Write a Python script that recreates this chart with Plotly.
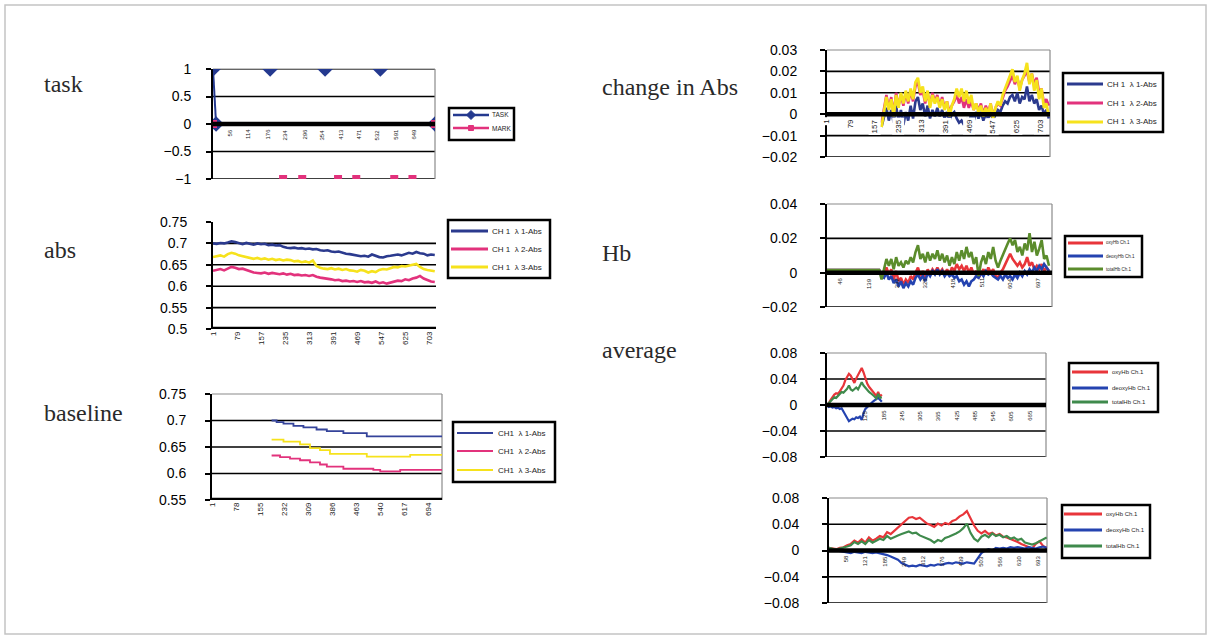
import plotly.graph_objects as go

W, H = 1211, 639

# ------------------------------------------------------------------ data
# task panel (sample index / value); None = gap between isolated marks
task_names = ["TASK", "MARK"]
task_x = [1, 11, None, 186, None, 364, None, 543, None, 720]
task_y = [1, 0, None, 1, None, 1, None, 1, None, 0]
mark_x = [1, None, 228, None, 290, None, 406, None, 465, None, 588, None, 647, None, 720]
mark_y = [0, None, -1, None, -1, None, -1, None, -1, None, -1, None, -1, None, 0]
task_ticks = [56, 114, 176, 234, 296, 354, 413, 471, 532, 591, 649]

# abs panel: samples 1, 13, 25, ...
abs_names = ["CH 1  \u03bb 1-Abs", "CH 1  \u03bb 2-Abs", "CH 1  \u03bb 3-Abs"]
abs_start, abs_step = 1, 12
abs_l1 = [0.700, 0.699, 0.701, 0.700, 0.702, 0.705, 0.703, 0.700, 0.698, 0.701,
          0.699, 0.697, 0.700, 0.698, 0.699, 0.696, 0.697, 0.695, 0.696, 0.692,
          0.690, 0.689, 0.690, 0.688, 0.689, 0.687, 0.688, 0.686, 0.687, 0.684,
          0.683, 0.684, 0.681, 0.680, 0.681, 0.678, 0.676, 0.675, 0.673, 0.672,
          0.670, 0.671, 0.669, 0.674, 0.671, 0.668, 0.667, 0.670, 0.671, 0.673,
          0.674, 0.672, 0.675, 0.678, 0.676, 0.680, 0.677, 0.676, 0.672, 0.674,
          0.673]
abs_l2 = [0.636, 0.638, 0.640, 0.637, 0.642, 0.645, 0.643, 0.640, 0.641, 0.638,
          0.636, 0.632, 0.631, 0.630, 0.632, 0.629, 0.631, 0.630, 0.628, 0.630,
          0.627, 0.629, 0.626, 0.627, 0.625, 0.626, 0.624, 0.626, 0.622, 0.620,
          0.619, 0.617, 0.616, 0.614, 0.615, 0.612, 0.613, 0.611, 0.612, 0.610,
          0.612, 0.609, 0.610, 0.608, 0.611, 0.607, 0.609, 0.606, 0.608, 0.610,
          0.613, 0.612, 0.616, 0.614, 0.618, 0.620, 0.624, 0.618, 0.615, 0.611,
          0.610]
abs_l3 = [0.668, 0.670, 0.672, 0.669, 0.675, 0.678, 0.676, 0.672, 0.670, 0.668,
          0.666, 0.664, 0.666, 0.663, 0.665, 0.662, 0.664, 0.661, 0.663, 0.660,
          0.662, 0.661, 0.658, 0.659, 0.656, 0.658, 0.655, 0.660, 0.647, 0.643,
          0.641, 0.640, 0.642, 0.639, 0.641, 0.638, 0.640, 0.637, 0.636, 0.634,
          0.638, 0.636, 0.632, 0.635, 0.633, 0.638, 0.640, 0.639, 0.642, 0.645,
          0.644, 0.647, 0.646, 0.648, 0.650, 0.652, 0.645, 0.640, 0.638, 0.636,
          0.635]
abs_ticks = [1, 79, 157, 235, 313, 391, 469, 547, 625, 703]

# baseline panel (step lines)
bl_names = ["CH1  \u03bb 1-Abs", "CH1  \u03bb 2-Abs", "CH1  \u03bb 3-Abs"]
bl_l1_x = [192, 208, 230, 262, 294, 336, 369, 422, 497, 738]
bl_l1_y = [0.700, 0.697, 0.694, 0.690, 0.687, 0.683, 0.680, 0.676, 0.670, 0.670]
bl_l2_x = [192, 219, 251, 283, 315, 347, 369, 422, 518, 540, 604, 738]
bl_l2_y = [0.634, 0.631, 0.628, 0.625, 0.621, 0.617, 0.613, 0.609, 0.607, 0.604, 0.607, 0.607]
bl_l3_x = [192, 230, 283, 315, 347, 379, 497, 636, 738]
bl_l3_y = [0.664, 0.660, 0.655, 0.648, 0.644, 0.637, 0.632, 0.635, 0.635]
bl_ticks = [1, 78, 155, 232, 309, 386, 463, 540, 617, 694]

# change in Abs: samples 181, 189, ...
ch_names = ["CH 1  \u03bb 1-Abs", "CH 1  \u03bb 2-Abs", "CH 1  \u03bb 3-Abs"]
ch_start, ch_step = 181, 8
ch_l1 = [-0.006, -0.002, 0.003, -0.003, 0.002, -0.004, 0.004, -0.003, 0.002, -0.005,
         0.001, -0.003, 0.004, -0.002, 0.006, 0.008, 0.002, 0.005, -0.001, 0.004,
         -0.002, 0.002, -0.001, 0.003, -0.001, 0.002, -0.002, 0.001, -0.003, 0.000,
         0.001, -0.002, -0.004, -0.003, -0.005, -0.002, -0.004, 0.000, -0.003, 0.001,
         -0.002, 0.001, -0.003, 0.000, -0.002, 0.001, -0.003, 0.000, 0.002, 0.001,
         0.004, 0.006, 0.005, 0.008, 0.009, 0.006, 0.010, 0.005, 0.008, 0.007,
         0.013, 0.006, 0.009, 0.005, 0.007, 0.002, 0.004, 0.000, 0.002, -0.002]
ch_l2 = [-0.004, 0.002, 0.009, 0.003, 0.008, 0.000, 0.010, 0.004, 0.009, 0.004,
         0.010, 0.005, 0.011, 0.006, 0.013, 0.015, 0.009, 0.011, 0.005, 0.010,
         0.004, 0.010, 0.006, 0.009, 0.004, 0.008, 0.003, 0.006, 0.001, 0.004,
         0.006, 0.009, 0.005, 0.008, 0.003, 0.007, 0.003, 0.006, 0.002, 0.005,
         0.002, 0.005, 0.000, 0.004, 0.001, 0.005, -0.001, 0.003, 0.005, 0.004,
         0.008, 0.011, 0.013, 0.016, 0.018, 0.014, 0.017, 0.012, 0.016, 0.018,
         0.020, 0.015, 0.019, 0.014, 0.017, 0.010, 0.012, 0.005, 0.007, 0.004]
ch_l3 = [-0.006, 0.001, 0.008, 0.002, 0.007, -0.001, 0.009, 0.003, 0.010, 0.005,
         0.011, 0.006, 0.012, 0.007, 0.015, 0.017, 0.010, 0.013, 0.006, 0.011,
         0.003, 0.009, 0.005, 0.008, 0.003, 0.007, 0.002, 0.006, -0.001, 0.004,
         0.007, 0.012, 0.008, 0.012, 0.006, 0.011, 0.005, 0.009, 0.002, 0.005,
         0.001, 0.004, -0.001, 0.003, 0.000, 0.005, -0.002, 0.003, 0.006, 0.004,
         0.009, 0.012, 0.015, 0.018, 0.021, 0.015, 0.018, 0.011, 0.016, 0.019,
         0.024, 0.014, 0.019, 0.011, 0.016, 0.007, 0.012, 0.003, 0.005, -0.001]
ch_ticks = [1, 79, 157, 235, 313, 391, 469, 547, 625, 703]

# Hb: flat rest part, then samples 181, 189, ...
hb_names = ["oxyHb Ch.1", "deoxyHb Ch.1", "totalHb Ch.1"]
hb_rest_x = [1, 173]
hb_rest_y = [0.0015, 0.0015]
hb_start, hb_step = 181, 8
hb_oxy = [-0.002, 0.000, 0.003, -0.001, 0.002, -0.004, 0.001, -0.005, -0.003, -0.007,
          -0.004, -0.006, -0.002, -0.004, 0.000, 0.003, -0.002, 0.001, -0.004, 0.002,
          -0.001, 0.002, 0.000, 0.003, 0.000, 0.002, -0.001, 0.002, -0.001, 0.003,
          0.001, 0.005, 0.002, 0.004, 0.001, 0.004, 0.000, 0.003, -0.001, 0.001,
          -0.003, 0.000, 0.002, -0.001, 0.003, 0.000, 0.002, -0.002, -0.003, 0.000,
          0.002, 0.005, 0.008, 0.011, 0.008, 0.006, 0.004, 0.006, 0.003, 0.005,
          0.009, 0.004, 0.006, 0.002, 0.004, 0.002, 0.005, 0.001, 0.003, 0.001]
hb_deoxy = [-0.002, -0.003, 0.000, -0.004, -0.002, -0.006, -0.004, -0.008, -0.005, -0.009,
            -0.006, -0.008, -0.005, -0.007, -0.003, -0.001, -0.004, -0.002, -0.005, 0.000,
            -0.002, 0.001, -0.001, 0.002, -0.001, 0.001, -0.002, 0.000, -0.002, -0.001,
            -0.003, -0.002, -0.005, -0.004, -0.007, -0.005, -0.008, -0.005, -0.004, -0.002,
            -0.003, 0.000, -0.002, 0.001, -0.001, 0.000, -0.002, -0.003, -0.004, -0.002,
            -0.004, -0.001, -0.003, -0.002, -0.004, -0.001, -0.003, 0.000, -0.002, 0.001,
            -0.001, 0.002, 0.000, 0.003, 0.001, 0.004, 0.002, 0.005, 0.003, 0.001]
hb_total = [-0.004, 0.002, 0.008, 0.004, 0.008, 0.002, 0.009, 0.004, 0.006, 0.003,
            0.007, 0.005, 0.009, 0.006, 0.012, 0.016, 0.008, 0.011, 0.006, 0.012,
            0.007, 0.011, 0.008, 0.013, 0.007, 0.011, 0.006, 0.010, 0.004, 0.009,
            0.005, 0.012, 0.007, 0.013, 0.008, 0.015, 0.009, 0.012, 0.005, 0.009,
            -0.002, 0.006, 0.010, 0.005, 0.012, 0.008, 0.015, 0.007, 0.003, 0.007,
            0.010, 0.014, 0.017, 0.020, 0.016, 0.019, 0.012, 0.015, 0.010, 0.017,
            0.013, 0.023, 0.012, 0.018, 0.010, 0.014, 0.019, 0.008, 0.010, 0.004]
hb_ticks = [46, 139, 232, 325, 418, 511, 604, 697]

# average (one block): samples 1, 7, 13, ...
avg_start, avg_step = 1, 6
avg_oxy = [0.000, 0.003, 0.008, 0.012, 0.016, 0.018, 0.017, 0.021, 0.026, 0.030,
           0.038, 0.044, 0.048, 0.045, 0.040, 0.034, 0.041, 0.047, 0.052, 0.057,
           0.050, 0.040, 0.033, 0.028, 0.024, 0.020, 0.018, 0.014, 0.020, 0.013,
           0.016]
avg_deoxy = [0.000, -0.003, -0.002, -0.004, -0.003, -0.005, -0.004, -0.006, -0.005, -0.010,
             -0.014, -0.020, -0.025, -0.023, -0.021, -0.022, -0.019, -0.020, -0.018, -0.023,
             -0.012, -0.006, -0.003, 0.000, 0.003, 0.005, 0.007, 0.009, 0.011, 0.008,
             0.005]
avg_total = [0.000, 0.003, 0.006, 0.010, 0.012, 0.011, 0.015, 0.017, 0.020, 0.019,
             0.022, 0.025, 0.030, 0.024, 0.022, 0.025, 0.027, 0.024, 0.029, 0.035,
             0.030, 0.026, 0.024, 0.020, 0.018, 0.016, 0.013, 0.010, 0.017, 0.011,
             0.012]
avg_ticks = [125, 185, 245, 305, 365, 425, 485, 545, 605, 665]

# bottom panel (whole record): samples 1, 13, 25, ...
bot_start, bot_step = 1, 12
bot_oxy = [0.004, 0.003, 0.002, 0.004, 0.005, 0.008, 0.010, 0.015, 0.012, 0.017,
           0.012, 0.020, 0.015, 0.018, 0.022, 0.020, 0.028, 0.025, 0.030, 0.035,
           0.040, 0.046, 0.050, 0.051, 0.048, 0.050, 0.046, 0.041, 0.039, 0.036,
           0.041, 0.038, 0.042, 0.040, 0.045, 0.047, 0.052, 0.055, 0.060, 0.048,
           0.038, 0.030, 0.026, 0.030, 0.025, 0.027, 0.023, 0.025, 0.021, 0.020,
           0.018, 0.016, 0.013, 0.010, 0.008, 0.005, 0.003, 0.010, 0.014, 0.007,
           0.004]
bot_deoxy = [0.000, 0.001, 0.000, -0.001, -0.002, -0.003, -0.004, -0.002, -0.003, -0.004,
             -0.002, -0.003, -0.004, -0.003, -0.004, -0.005, -0.007, -0.009, -0.011, -0.014,
             -0.019, -0.022, -0.024, -0.023, -0.024, -0.022, -0.023, -0.024, -0.022, -0.023,
             -0.021, -0.022, -0.020, -0.019, -0.020, -0.018, -0.019, -0.020, -0.018, -0.019,
             -0.020, -0.012, -0.004, 0.000, 0.002, 0.000, 0.004, 0.003, 0.004, 0.003,
             0.005, 0.004, 0.005, 0.004, 0.003, 0.005, 0.004, 0.003, 0.005, 0.006,
             0.004]
bot_total = [0.004, 0.002, 0.001, 0.003, 0.004, 0.006, 0.008, 0.013, 0.010, 0.014,
             0.010, 0.016, 0.012, 0.015, 0.018, 0.016, 0.022, 0.018, 0.021, 0.023,
             0.025, 0.027, 0.029, 0.026, 0.027, 0.023, 0.021, 0.018, 0.016, 0.012,
             0.016, 0.014, 0.019, 0.021, 0.023, 0.026, 0.029, 0.034, 0.041, 0.027,
             0.018, 0.014, 0.021, 0.024, 0.020, 0.026, 0.022, 0.024, 0.020, 0.022,
             0.018, 0.020, 0.016, 0.018, 0.012, 0.010, 0.009, 0.011, 0.014, 0.018,
             0.020]
bot_ticks = [58, 121, 185, 249, 312, 376, 439, 503, 566, 630, 693]


def xs(start, step, vals):
    return [start + step * i for i in range(len(vals))]


# ------------------------------------------------------------------ styling
BLUE = "#2b3a8e"
TBLUE = "#24398f"
PINK = "#e2327c"
YELLOW = "#f6e21c"
RED = "#e8353a"
DBLUE = "#2443b0"
OLIVE = "#5b8c2c"
GREEN = "#3f8a4c"
SANS = "Liberation Sans, Arial, sans-serif"
SERIF = "Liberation Serif, Times New Roman, serif"

# panel boxes in pixels: (left, top, right, bottom)
panels = {
    1: dict(box=(213, 69, 435, 179), xr=[1, 720], yr=[-1, 1],
            yt=[-1, -0.5, 0, 0.5, 1], ytt=["\u22121", "\u22120.5", "0", "0.5", "1"],
            grid=[-1, -0.5, 0.5, 1], axis_y=0, frame=True, stand=12),
    2: dict(box=(213, 222, 436, 329), xr=[1, 725], yr=[0.5, 0.75],
            yt=[0.5, 0.55, 0.6, 0.65, 0.7, 0.75], ytt=["0.5", "0.55", "0.6", "0.65", "0.7", "0.75"],
            grid=[0.55, 0.6, 0.65, 0.7], axis_y=0.5, frame=False, stand=16),
    3: dict(box=(212, 394, 442, 500), xr=[1, 738], yr=[0.55, 0.75],
            yt=[0.55, 0.6, 0.65, 0.7, 0.75], ytt=["0.55", "0.6", "0.65", "0.7", "0.75"],
            grid=[0.6, 0.65, 0.7], axis_y=0.55, frame=True, stand=16),
    4: dict(box=(827, 50, 1050, 157), xr=[1, 737], yr=[-0.02, 0.03],
            yt=[-0.02, -0.01, 0, 0.01, 0.02, 0.03],
            ytt=["\u22120.02", "\u22120.01", "0", "0.01", "0.02", "0.03"],
            grid=[-0.02, -0.01, 0.01, 0.02], axis_y=0, frame=True, stand=20),
    5: dict(box=(827, 204, 1052, 307), xr=[1, 743], yr=[-0.02, 0.04],
            yt=[-0.02, 0, 0.02, 0.04], ytt=["\u22120.02", "0", "0.02", "0.04"],
            grid=[-0.02, 0.02], axis_y=0, frame=True, stand=20),
    6: dict(box=(827, 353, 1046, 457), xr=[1, 720], yr=[-0.08, 0.08],
            yt=[-0.08, -0.04, 0, 0.04, 0.08], ytt=["\u22120.08", "\u22120.04", "0", "0.04", "0.08"],
            grid=[-0.08, -0.04, 0.04], axis_y=0, frame=True, stand=20),
    7: dict(box=(829, 498, 1047, 603), xr=[1, 722], yr=[-0.08, 0.08],
            yt=[-0.08, -0.04, 0, 0.04, 0.08], ytt=["\u22120.08", "\u22120.04", "0", "0.04", "0.08"],
            grid=[-0.08, -0.04, 0.04], axis_y=0, frame=True, stand=20),
}

fig = go.Figure()


def add_line(p, x, y, name, color, width, shape="linear", mode="lines", marker=None):
    sfx = "" if p == 1 else str(p)
    fig.add_trace(go.Scatter(
        x=x, y=y, name=name, mode=mode, line=dict(color=color, width=width, shape=shape),
        marker=marker, xaxis="x" + sfx, yaxis="y" + sfx,
        showlegend=False, connectgaps=False, hoverinfo="skip"))


# task
add_line(1, task_x, task_y, task_names[0], TBLUE, 2, mode="lines+markers",
         marker=dict(symbol="diamond", size=12, color=TBLUE))
add_line(1, mark_x, mark_y, task_names[1], PINK, 2, mode="lines+markers",
         marker=dict(symbol="square", size=8, color=PINK))
# abs
add_line(2, xs(abs_start, abs_step, abs_l1), abs_l1, abs_names[0], BLUE, 2.6)
add_line(2, xs(abs_start, abs_step, abs_l2), abs_l2, abs_names[1], PINK, 2.6)
add_line(2, xs(abs_start, abs_step, abs_l3), abs_l3, abs_names[2], YELLOW, 2.6)
# baseline
add_line(3, bl_l1_x, bl_l1_y, bl_names[0], "#34439a", 1.8, shape="hv")
add_line(3, bl_l2_x, bl_l2_y, bl_names[1], PINK, 1.8, shape="hv")
add_line(3, bl_l3_x, bl_l3_y, bl_names[2], YELLOW, 1.8, shape="hv")
# change in Abs
add_line(4, xs(ch_start, ch_step, ch_l1), ch_l1, ch_names[0], BLUE, 2.6)
add_line(4, xs(ch_start, ch_step, ch_l2), ch_l2, ch_names[1], PINK, 2.6)
add_line(4, xs(ch_start, ch_step, ch_l3), ch_l3, ch_names[2], YELLOW, 2.8)
# Hb
add_line(5, hb_rest_x + xs(hb_start, hb_step, hb_oxy), hb_rest_y + hb_oxy, hb_names[0], RED, 2.6)
add_line(5, hb_rest_x + xs(hb_start, hb_step, hb_deoxy), hb_rest_y + hb_deoxy, hb_names[1], DBLUE, 2.6)
add_line(5, hb_rest_x + xs(hb_start, hb_step, hb_total), hb_rest_y + hb_total, hb_names[2], OLIVE, 2.6)
# average
add_line(6, xs(avg_start, avg_step, avg_oxy), avg_oxy, hb_names[0], RED, 2.2)
add_line(6, xs(avg_start, avg_step, avg_deoxy), avg_deoxy, hb_names[1], DBLUE, 2.2)
add_line(6, xs(avg_start, avg_step, avg_total), avg_total, hb_names[2], GREEN, 2.2)
# bottom
add_line(7, xs(bot_start, bot_step, bot_oxy), bot_oxy, hb_names[0], RED, 2.2)
add_line(7, xs(bot_start, bot_step, bot_deoxy), bot_deoxy, hb_names[1], DBLUE, 2.2)
add_line(7, xs(bot_start, bot_step, bot_total), bot_total, hb_names[2], GREEN, 2.2)

layout = dict(
    width=W, height=H, margin=dict(l=0, r=0, t=0, b=0, pad=0, autoexpand=False),
    paper_bgcolor="white", plot_bgcolor="rgba(0,0,0,0)",
    font=dict(family=SANS, color="black"), showlegend=False,
)
shapes = []
annotations = []

for p, c in panels.items():
    sfx = "" if p == 1 else str(p)
    l, t, r, b = c["box"]
    xa = dict(domain=[l / W, r / W], range=c["xr"], anchor="y" + sfx, automargin=False,
              showgrid=False, zeroline=False, showline=False, showticklabels=False,
              ticks="", fixedrange=True)
    if p == 2:
        xa.update(showticklabels=True, tickvals=abs_ticks, ticktext=[str(v) for v in abs_ticks],
                  tickangle=-90, tickfont=dict(size=8, color="#222"))
    if p == 3:
        xa.update(showticklabels=True, tickvals=bl_ticks, ticktext=[str(v) for v in bl_ticks],
                  tickangle=-90, tickfont=dict(size=8, color="#222"))
    ya = dict(domain=[1 - b / H, 1 - t / H], range=c["yr"], anchor="x" + sfx, automargin=False,
              tickvals=c["yt"], ticktext=c["ytt"], showgrid=False, zeroline=False,
              showline=True, linecolor="black", linewidth=2, ticks="outside",
              ticklen=5, tickwidth=1.5, tickcolor="black", ticklabelstandoff=c["stand"],
              tickfont=dict(size=14, family=SANS, color="black"), fixedrange=True)
    layout["xaxis" + sfx] = xa
    layout["yaxis" + sfx] = ya

    xd = "x" + sfx + " domain"
    yy = "y" + sfx
    for g in c["grid"]:
        shapes.append(dict(type="line", xref=xd, yref=yy, x0=0, x1=1, y0=g, y1=g,
                           line=dict(color="black", width=1.6), layer="below"))
    if c["frame"]:
        shapes.append(dict(type="line", xref=xd, yref="y" + sfx + " domain", x0=0, x1=1, y0=1, y1=1,
                           line=dict(color="#8a8a8a", width=1.2), layer="below"))
        shapes.append(dict(type="line", xref=xd, yref="y" + sfx + " domain", x0=1, x1=1, y0=0, y1=1,
                           line=dict(color="#8a8a8a", width=1.2), layer="below"))
    shapes.append(dict(type="line", xref=xd, yref=yy, x0=0, x1=1,
                       y0=c["axis_y"], y1=c["axis_y"],
                       line=dict(color="black", width=4.5), layer="above"))


# tick labels for axes crossing at zero
def zero_labels(p, ticks, size, bg=None):
    sfx = "" if p == 1 else str(p)
    for v in ticks:
        a = dict(x=v, y=0, xref="x" + sfx, yref="y" + sfx, text=str(v), showarrow=False,
                 textangle=-90, xanchor="center", yanchor="top", yshift=-3,
                 font=dict(size=size, family=SANS, color="#1a1a1a"))
        if bg:
            a.update(bgcolor=bg, borderpad=1)
        annotations.append(a)


zero_labels(1, task_ticks, 6)
zero_labels(4, ch_ticks, 8, bg="white")
zero_labels(5, hb_ticks, 6)
zero_labels(6, avg_ticks, 6)
zero_labels(7, bot_ticks, 6)


# ---------------- legend boxes (drawn in pixel positions of the page)
def px(x):
    return x / W


def py(y):
    return 1 - y / H


def legend_box(box, rows, line_x, text_x, fsize, lw=3):
    l, t, r, b = box
    shapes.append(dict(type="rect", xref="paper", yref="paper", x0=px(l), x1=px(r),
                       y0=py(b), y1=py(t), fillcolor="white",
                       line=dict(color="black", width=2.5), layer="above"))
    for name, color, yrow, marker in rows:
        shapes.append(dict(type="line", xref="paper", yref="paper",
                           x0=px(line_x[0]), x1=px(line_x[1]), y0=py(yrow), y1=py(yrow),
                           line=dict(color=color, width=lw), layer="above"))
        cx = (line_x[0] + line_x[1]) / 2
        if marker == "diamond":
            d = 4.5
            path = "M {},{} L {},{} L {},{} L {},{} Z".format(
                px(cx), py(yrow - d), px(cx + d), py(yrow), px(cx), py(yrow + d), px(cx - d), py(yrow))
            shapes.append(dict(type="path", xref="paper", yref="paper", path=path,
                               fillcolor=color, line=dict(color=color, width=1), layer="above"))
        elif marker == "square":
            d = 2.5
            shapes.append(dict(type="rect", xref="paper", yref="paper",
                               x0=px(cx - d), x1=px(cx + d), y0=py(yrow + d), y1=py(yrow - d),
                               fillcolor=color, line=dict(color=color, width=1), layer="above"))
        annotations.append(dict(text=name, x=px(text_x), y=py(yrow), xref="paper", yref="paper",
                                xanchor="left", yanchor="middle", showarrow=False,
                                font=dict(size=fsize, family=SANS, color="#1e1e1e")))


legend_box((449, 108, 514, 140),
           [(task_names[0], TBLUE, 115, "diamond"), (task_names[1], PINK, 128, "square")],
           (453, 489), 490, 6.5, lw=2.5)
legend_box((448, 220, 550, 278),
           [(abs_names[0], BLUE, 231, None), (abs_names[1], PINK, 249, None),
            (abs_names[2], YELLOW, 267, None)], (451, 488), 490, 8)
legend_box((453, 422, 555, 482),
           [(bl_names[0], "#34439a", 433, None), (bl_names[1], PINK, 451, None),
            (bl_names[2], YELLOW, 470, None)], (457, 493), 496, 8, lw=2.2)
legend_box((1063, 73, 1163, 132),
           [(ch_names[0], BLUE, 84, None), (ch_names[1], PINK, 103, None),
            (ch_names[2], YELLOW, 122, None)], (1067, 1103), 1105, 8)
legend_box((1065, 236, 1142, 277),
           [(hb_names[0], RED, 243, None), (hb_names[1], DBLUE, 256, None),
            (hb_names[2], OLIVE, 269, None)], (1068, 1103), 1104, 4.5)
legend_box((1069, 363, 1158, 412),
           [(hb_names[0], RED, 372, None), (hb_names[1], DBLUE, 388, None),
            (hb_names[2], GREEN, 402, None)], (1072, 1108), 1110, 6)
legend_box((1062, 505, 1150, 558),
           [(hb_names[0], RED, 514, None), (hb_names[1], DBLUE, 530, None),
            (hb_names[2], GREEN, 546, None)], (1064, 1102), 1104, 6)

# panel titles
titles = [("task", 42, 84), ("abs", 42, 250), ("baseline", 42, 413),
          ("change in Abs", 600, 87), ("Hb", 600, 253), ("average", 600, 350)]
for txt, tx, ty in titles:
    annotations.append(dict(text=txt, x=tx / W, y=1 - ty / H, xref="paper", yref="paper",
                            xanchor="left", yanchor="middle", showarrow=False,
                            font=dict(family=SERIF, size=24, color="#2a2a2a")))

# outer frame of the figure
shapes.append(dict(type="rect", xref="paper", yref="paper", x0=5 / W, x1=1206 / W,
                   y0=1 - 634 / H, y1=1 - 5 / H, line=dict(color="#c4c4c4", width=1.5),
                   layer="below"))

layout["shapes"] = shapes
layout["annotations"] = annotations
fig.update_layout(**layout)
fig.write_html("out.html", config={"displayModeBar": False},
               post_script="document.body.style.margin='0px';document.body.style.overflow='hidden';")
